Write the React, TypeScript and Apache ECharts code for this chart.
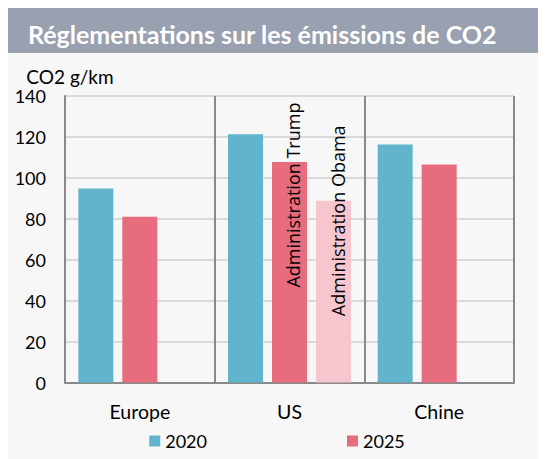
import React, { useEffect, useRef } from "react";
import * as echarts from "echarts";

const titleText = "Réglementations sur les émissions de CO2";
const yAxisName = "CO2 g/km";
const categories = ["Europe", "US", "Chine"];
const seriesNames = ["2020", "2025"];
const values2020 = [94.8, 121.3, 116.3];
const values2025 = [81, 107.7, 106.5];
const valuesObama: (number | null)[] = [null, 88.8, null];
const trumpLabel = "Administration Trump";
const obamaLabel = "Administration Obama";
const yMin = 0;
const yMax = 140;
const yInterval = 20;

const BLUE = "#62B4CC";
const RED = "#E76C7E";
const PINK = "#F6C5CE";
const AXIS_DARK = "#898989";
const GRID_LIGHT = "#D9D9D9";
const FONT = "Lato";
const ANNOT_FONT = "Open Sans";

export default function App() {
  const ref = useRef<HTMLDivElement>(null);

  useEffect(() => {
    if (!ref.current) return;
    const chart = echarts.init(ref.current, undefined, { renderer: "svg" });

    const annotLabel = (text: string, pos: [number, number]) => ({
      show: true,
      formatter: text,
      position: pos,
      rotate: 90,
      align: "center",
      verticalAlign: "middle",
      fontFamily: ANNOT_FONT,
      fontSize: 18,
      color: "#000",
    });

    const data2025 = values2025.map((v, i) =>
      i === 1 ? { value: v, label: annotLabel(trumpLabel, [21, 33]) } : v
    );
    const dataObama = valuesObama.map((v) =>
      v == null ? "-" : { value: v, label: annotLabel(obamaLabel, [22, 20]) }
    );

    chart.setOption({
      animation: false,
      backgroundColor: "#F7F7F7",
      textStyle: { fontFamily: FONT },
      graphic: [
        {
          type: "rect",
          shape: { x: 0, y: 0, width: 538, height: 45 },
          style: { fill: "#99A0B0" },
          silent: true,
        },
        {
          type: "text",
          x: 20,
          y: 26,
          style: {
            text: titleText,
            fill: "#FFFFFF",
            fontFamily: FONT,
            fontWeight: "bold",
            fontSize: 25,
            textVerticalAlign: "middle",
            textAlign: "left",
          },
        },
      ],
      legend: {
        data: seriesNames,
        left: "center",
        top: 419,
        icon: "rect",
        itemWidth: 11,
        itemHeight: 11,
        itemGap: 140,
        textStyle: { fontFamily: FONT, fontSize: 18, color: "#000" },
      },
      grid: { left: 57, right: 32, top: 88, bottom: 76.5 },
      xAxis: {
        type: "category",
        data: categories,
        axisTick: { show: false },
        axisLine: { lineStyle: { color: AXIS_DARK, width: 2 } },
        splitLine: { show: true, lineStyle: { color: AXIS_DARK, width: 2 } },
        axisLabel: { fontFamily: FONT, fontSize: 19.5, color: "#000", margin: 19 },
      },
      yAxis: {
        type: "value",
        min: yMin,
        max: yMax,
        interval: yInterval,
        name: yAxisName,
        nameLocation: "end",
        nameGap: 20,
        nameTextStyle: {
          fontFamily: FONT,
          fontSize: 19,
          lineHeight: 17,
          color: "#000",
          align: "center",
          verticalAlign: "middle",
          padding: [0, 0, 0, 10],
        },
        axisLine: { show: true, lineStyle: { color: AXIS_DARK, width: 2 } },
        axisTick: { show: false },
        splitLine: { lineStyle: { color: GRID_LIGHT, width: 2 } },
        axisLabel: { fontFamily: FONT, fontSize: 18, lineHeight: 16, color: "#000", margin: 19 },
      },
      series: [
        {
          name: seriesNames[0],
          type: "bar",
          data: values2020,
          barWidth: 35,
          barGap: "25.7%",
          itemStyle: { color: BLUE },
        },
        {
          name: seriesNames[1],
          type: "bar",
          data: data2025,
          barWidth: 35,
          barGap: "25.7%",
          itemStyle: { color: RED },
        },
        {
          name: "Obama",
          type: "bar",
          data: dataObama,
          barWidth: 35,
          barGap: "25.7%",
          itemStyle: { color: PINK },
        },
      ],
    });

    return () => chart.dispose();
  }, []);

  return <div ref={ref} style={{ width: 538, height: 451 }} />;
}
